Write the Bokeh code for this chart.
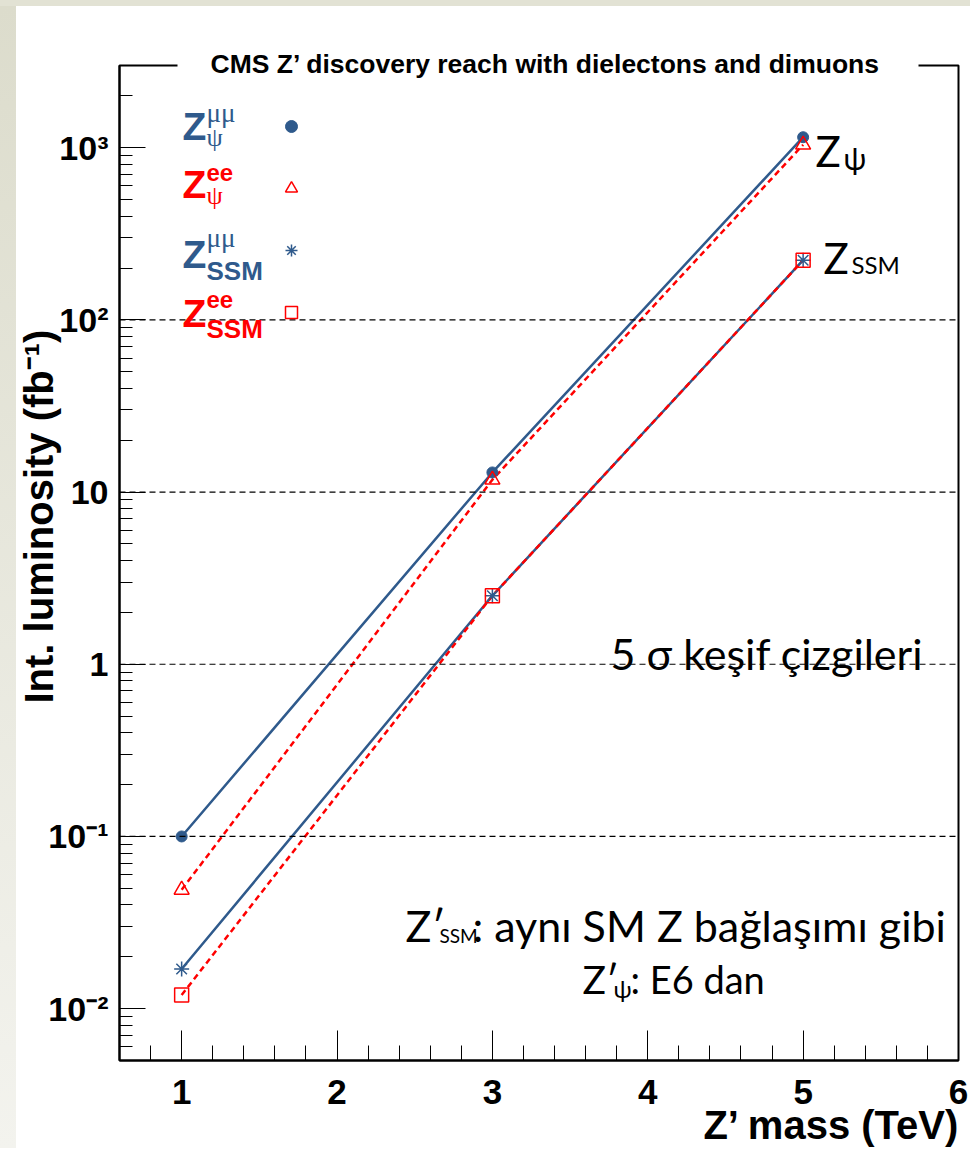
import numpy as np
from bokeh.plotting import figure
from bokeh.layouts import row, column
from bokeh.models import Label, Span, FixedTicker, Legend, LegendItem, Title, Spacer
from bokeh.embed import file_html
from bokeh.resources import INLINE

# ---------------- data ----------------
mass_tev = [1, 3, 5]
lumi_psi_mumu = [0.10, 13.0, 1150.0]
lumi_psi_ee = [0.049, 11.8, 1040.0]
lumi_ssm_mumu = [0.017, 2.5, 222.0]
lumi_ssm_ee = [0.012, 2.5, 222.0]

x_tick_values = [1, 2, 3, 4, 5, 6]
y_decades = [-2, -1, 0, 1, 2, 3]
y_tick_labels = ["10\u207b\u00b2", "10\u207b\u00b9", "1", "10", "10\u00b2", "10\u00b3"]
grid_levels = [0.1, 1, 10, 100]

title_text = "CMS Z\u2019 discovery reach with dielectons and dimuons"
x_title = "Z\u2019 mass (TeV)"
y_title = "Int. luminosity (fb\u207b\u00b9)"

BLUE = "#2f5a8c"
RED = "#ff0000"

# page decoration (slide background strips)
STRIP_W, STRIP_H = 16, 6

# frame in page pixels
FL, FR, FT, FB = 119, 958, 65, 1060
X0, X1 = 0.6, 6.0
Y0, Y1 = 0.005, 3000

p = figure(frame_width=FR - FL, frame_height=FB - FT,
           x_range=(X0, X1), y_range=(Y0, Y1), y_axis_type="log",
           output_backend="svg", toolbar_location=None,
           min_border_left=FL - STRIP_W, min_border_top=FT - STRIP_H,
           min_border_right=12, min_border_bottom=88)
p.background_fill_color = "white"
p.border_fill_color = "white"
p.outline_line_color = "black"
p.outline_line_width = 2
p.xgrid.visible = False
p.ygrid.visible = False

# ticks
x_minor = [round(v, 1) for v in np.arange(X0, X1 + 1e-9, 0.2)]
y_major = [10.0 ** d for d in y_decades]
y_minor = [m * 10.0 ** d for d in range(-3, 4) for m in range(2, 10)
           if Y0 <= m * 10.0 ** d <= Y1]
p.xaxis.ticker = FixedTicker(ticks=x_tick_values, minor_ticks=x_minor)
p.yaxis.ticker = FixedTicker(ticks=y_major, minor_ticks=y_minor)
p.yaxis.major_label_overrides = {v: s for v, s in zip(y_major, y_tick_labels)}

for ax in (p.xaxis, p.yaxis):
    ax.axis_line_width = 2
    ax.axis_line_color = "black"
    ax.major_tick_out = 0
    ax.minor_tick_out = 0
    ax.major_tick_line_width = 1
    ax.minor_tick_line_width = 1
    ax.major_label_text_font = "Liberation Sans"
    ax.major_label_text_font_style = "bold"
    ax.major_label_text_color = "black"
p.xaxis.major_tick_in = 30
p.xaxis.minor_tick_in = 15
p.yaxis.major_tick_in = 26
p.yaxis.minor_tick_in = 13
p.xaxis.major_label_text_font_size = "35px"
p.xaxis.major_label_standoff = 19
p.yaxis.major_label_text_font_size = "34px"
p.yaxis.major_label_standoff = 11

# horizontal dashed reference lines
for lv in grid_levels:
    p.add_layout(Span(location=lv, dimension="width", line_color="black",
                      line_width=1.2, line_dash="6 4"))

# lines
p.line(mass_tev, lumi_psi_mumu, line_color=BLUE, line_width=2.5)
p.line(mass_tev, lumi_ssm_mumu, line_color=BLUE, line_width=2.5)
p.line(mass_tev, lumi_psi_ee, line_color=RED, line_width=2.5, line_dash="6 4")
p.line(mass_tev, lumi_ssm_ee, line_color=RED, line_width=2.5, line_dash="6 4")

# markers
r_psi_mm = p.scatter(mass_tev, lumi_psi_mumu, marker="circle", size=11,
                     fill_color=BLUE, line_color=BLUE)
r_psi_ee = p.scatter(mass_tev, lumi_psi_ee, marker="triangle", size=15,
                     fill_color=None, line_color=RED, line_width=1.5)
r_ssm_mm = p.scatter(mass_tev, lumi_ssm_mumu, marker="asterisk", size=15,
                     line_color=BLUE, line_width=1.5)
r_ssm_ee = p.scatter(mass_tev, lumi_ssm_ee, marker="square", size=14,
                     fill_color=None, line_color=RED, line_width=1.5)

legend = Legend(items=[LegendItem(label=" ", renderers=[r]) for r in
                       (r_psi_mm, r_psi_ee, r_ssm_mm, r_ssm_ee)],
                location=(156, 733), orientation="vertical",
                glyph_width=32, glyph_height=30, spacing=32,
                padding=0, margin=0, border_line_color=None,
                background_fill_alpha=0, label_text_font_size="1px",
                label_width=0, label_standoff=0, label_height=10)
p.add_layout(legend)

# title straddling the top frame line (white box breaks the frame line)
p.title.text = title_text
p.title.align = "left"
p.title.offset = 58
p.title.vertical_align = "bottom"
p.title.text_font = "Liberation Sans"
p.title.text_font_style = "bold"
p.title.text_font_size = "26.5px"
p.title.text_color = "black"
p.title.standoff = -32
p.title.background_fill_color = "white"
p.title.padding = dict(left=33, right=38, top=3, bottom=3)

# axis titles
xt = Title(text=x_title, align="right", offset=-2, standoff=-8,
           vertical_align="top", text_font="Liberation Sans",
           text_font_style="bold", text_font_size="40px", text_color="black")
p.add_layout(xt, "below")
yt = Title(text=y_title, align="left", offset=FB - 703, standoff=-30,
           vertical_align="bottom", text_font="Liberation Sans",
           text_font_style="bold", text_font_size="40px", text_color="black")
p.add_layout(yt, "left")


def txt(text, X, Y, size, font="Liberation Sans", style="bold", color="black",
        align="left"):
    # Y is the wanted baseline (page px); labels sit ~0.35 em lower than anchor
    lab = Label(x=X - FL, y=FB - (Y - 0.35 * size), x_units="screen", y_units="screen",
                text=text, text_font=font, text_font_size=f"{size}px",
                text_font_style=style, text_color=color, text_align=align,
                text_baseline="alphabetic")
    p.add_layout(lab)
    return lab


# legend texts
SERIF = "Liberation Serif"
SANS = "Liberation Sans"
rows = [
    (BLUE, 140, "\u03bc\u03bc", SERIF, "normal", 122, "\u03c8", SERIF, "normal", 146),
    (RED, 198, "ee", SANS, "bold", 180, "\u03c8", SERIF, "normal", 204),
    (BLUE, 268, "\u03bc\u03bc", SERIF, "normal", 247, "SSM", SANS, "bold", 280),
    (RED, 327, "ee", SANS, "bold", 307, "SSM", SANS, "bold", 338),
]
for col, zb, sup, supf, sups, supb, sub, subf, subs, subb in rows:
    txt("Z", 182, zb, 39, color=col)
    txt(sup, 206, supb, 27 if supf == SERIF else 24, font=supf, style=sups, color=col)
    txt(sub, 206, subb, 26, font=subf, style=subs, color=col)

# annotations (Turkish)
GS = "Lato"
txt("Z", 815, 165, 42, font=GS, style="normal")
txt("\u03c8", 843, 168, 30, font=GS, style="normal")
txt("Z", 823, 272, 42, font=GS, style="normal")
txt("SSM", 851, 272, 24, font=GS, style="normal")

txt("5 \u03c3 ke\u015fif \u00e7izgileri", 610, 668, 43, font=GS, style="normal")

txt("Z\u2032", 405, 940, 43, font=GS, style="normal")
txt("SSM", 439, 942, 19, font=GS, style="normal")
txt(": ayn\u0131 SM Z ba\u011fla\u015f\u0131m\u0131 gibi", 472, 940, 43, font=GS, style="normal")
txt("Z\u2032", 582, 992, 39, font=GS, style="normal")
txt("\u03c8", 613, 996, 24, font=GS, style="normal")
txt(": E6 dan", 630, 992, 38, font=GS, style="normal")

# slide background strips around the chart
top_strip = Spacer(width=970, height=STRIP_H, styles={"background-color": "#e2e2d4"})
left_strip = Spacer(width=STRIP_W, height=1142,
                    styles={"background": "linear-gradient(#dcdccc, #f3f3ee)"})
page = column(top_strip, row(left_strip, p, spacing=0), spacing=0)

open("out.html", "w").write(file_html(page, INLINE))
